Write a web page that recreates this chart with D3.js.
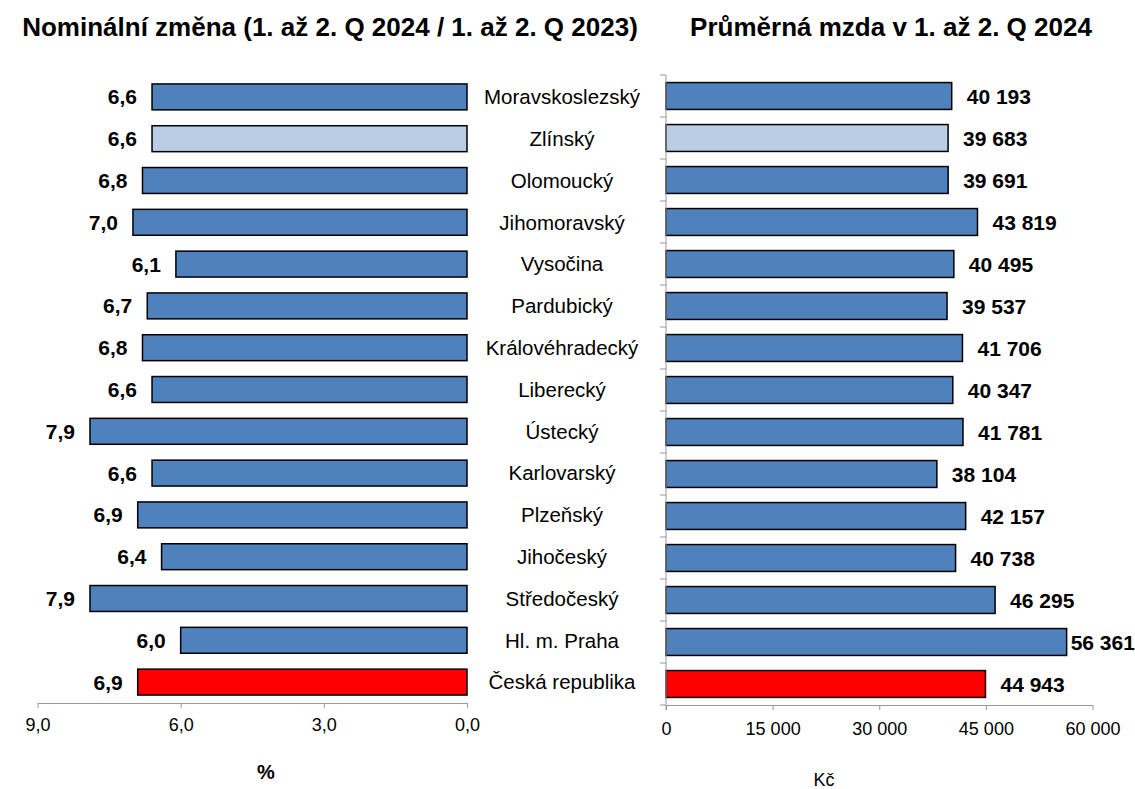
<!DOCTYPE html>
<html><head><meta charset="utf-8">
<script src="https://cdn.jsdelivr.net/npm/d3@7"></script>
<style>body{margin:0;background:#fff;} text{font-family:"Liberation Sans",Arial,sans-serif;}</style>
</head><body>
<svg id="c" width="1135" height="789"></svg>
<script>
const regions = ["Moravskoslezský","Zlínský","Olomoucký","Jihomoravský","Vysočina","Pardubický","Královéhradecký","Liberecký","Ústecký","Karlovarský","Plzeňský","Jihočeský","Středočeský","Hl. m. Praha","Česká republika"];
const changePct = [6.6,6.6,6.8,7.0,6.1,6.7,6.8,6.6,7.9,6.6,6.9,6.4,7.9,6.0,6.9];
const avgWage = [40193,39683,39691,43819,40495,39537,41706,40347,41781,38104,42157,40738,46295,56361,44943];
const highlight = {"Zlínský":"#B9CDE5","Česká republika":"#FF0000"};
const leftTicks = [9,6,3,0];
const rightTicks = [0,15000,30000,45000,60000];
const titleLeft = "Nominální změna (1. až 2. Q 2024 / 1. až 2. Q 2023)";
const titleRight = "Průměrná mzda v 1. až 2. Q 2024";

const svg = d3.select("#c");
const baseColor = "#4F81BD";
const colorOf = r => highlight[r] || baseColor;
const fmtPct = v => d3.format(".1f")(v).replace(".", ",");
const fmtKc = v => d3.format(",")(v).replace(/,/g, " ");
const FONT = "Liberation Sans, Arial, sans-serif";
const W = 1135;

// Left panel
const xL = d3.scaleLinear().domain([9,0]).range([37.5,467]);
const yL = d3.scaleBand().domain(regions).range([76,703]).paddingInner(0.38).paddingOuter(0.19);
const gL = svg.append("g");
gL.selectAll("rect").data(regions).join("rect")
  .attr("x", (d,i)=>xL(changePct[i])).attr("y", d=>yL(d))
  .attr("width", (d,i)=>xL(0)-xL(changePct[i])).attr("height", yL.bandwidth())
  .attr("fill", d=>colorOf(d)).attr("stroke","#000").attr("stroke-width",1.5);
gL.selectAll("text.v").data(regions).join("text").attr("class","v")
  .attr("x",(d,i)=>xL(changePct[i])-15).attr("y",d=>yL(d)+yL.bandwidth()/2)
  .attr("dy","0.36em").attr("text-anchor","end").attr("font-weight","bold").attr("font-size",21)
  .text((d,i)=>fmtPct(changePct[i]));
const axL = gL.append("g").attr("transform","translate(0,703)")
  .call(d3.axisBottom(xL).tickValues(leftTicks).tickFormat(fmtPct).tickSize(5).tickSizeOuter(0).tickPadding(10));
axL.select(".domain").attr("stroke","#999");
axL.selectAll(".tick line").attr("stroke","#999");
axL.selectAll(".tick text").attr("font-size",18).attr("fill","#000").attr("font-family",FONT);
svg.append("text").attr("x",266).attr("y",779).attr("text-anchor","middle").attr("font-weight","bold").attr("font-size",20).text("%");

// Category labels
svg.append("g").selectAll("text").data(regions).join("text")
  .attr("x",562).attr("y",d=>yL(d)+yL.bandwidth()/2).attr("dy","0.36em")
  .attr("text-anchor","middle").attr("font-size",20.5).text(d=>d);

// Right panel
const xR = d3.scaleLinear().domain([0,60000]).range([666,1092.5]);
const yR = d3.scaleBand().domain(regions).range([75,705]).paddingInner(0.36).paddingOuter(0.18);
const gR = svg.append("g");
gR.selectAll("rect").data(regions).join("rect")
  .attr("x", xR(0)).attr("y", d=>yR(d))
  .attr("width", (d,i)=>xR(avgWage[i])-xR(0)).attr("height", yR.bandwidth())
  .attr("fill", d=>colorOf(d)).attr("stroke","#000").attr("stroke-width",1.5);
gR.selectAll("text.v").data(regions).join("text").attr("class","v")
  .attr("x",(d,i)=>xR(avgWage[i])+15).attr("y",d=>yR(d)+yR.bandwidth()/2)
  .attr("dy","0.36em").attr("text-anchor","start").attr("font-weight","bold").attr("font-size",21)
  .text((d,i)=>fmtKc(avgWage[i]))
  .each(function(d,i){
    const w = this.getComputedTextLength();
    const x0 = xR(avgWage[i]) + 15;
    if (x0 + w > W - 2) d3.select(this).attr("x", Math.max(xR(avgWage[i]) + 4, W - 2 - w));
  });
const axR = gR.append("g").attr("transform","translate(0,705)")
  .call(d3.axisBottom(xR).tickValues(rightTicks).tickFormat(fmtKc).tickSize(5).tickSizeOuter(0).tickPadding(12));
axR.select(".domain").attr("stroke","#999");
axR.selectAll(".tick line").attr("stroke","#999");
axR.selectAll(".tick text").attr("font-size",18).attr("fill","#000").attr("font-family",FONT);
// vertical category axis with boundary ticks
const bounds = d3.range(regions.length+1).map(i => 75 + i*(705-75)/regions.length);
gR.append("line").attr("x1",666).attr("x2",666).attr("y1",75).attr("y2",710).attr("stroke","#999");
gR.selectAll("line.bt").data(bounds).join("line").attr("class","bt")
  .attr("x1",660).attr("x2",666).attr("y1",d=>d).attr("y2",d=>d).attr("stroke","#999");
svg.append("text").attr("x",824).attr("y",786).attr("text-anchor","middle").attr("font-size",18).text("Kč");

// Titles
svg.append("text").attr("x",330).attr("y",36).attr("text-anchor","middle").attr("font-weight","bold").attr("font-size",26).text(titleLeft);
svg.append("text").attr("x",891).attr("y",36).attr("text-anchor","middle").attr("font-weight","bold").attr("font-size",26).text(titleRight);
</script>
</body></html>
